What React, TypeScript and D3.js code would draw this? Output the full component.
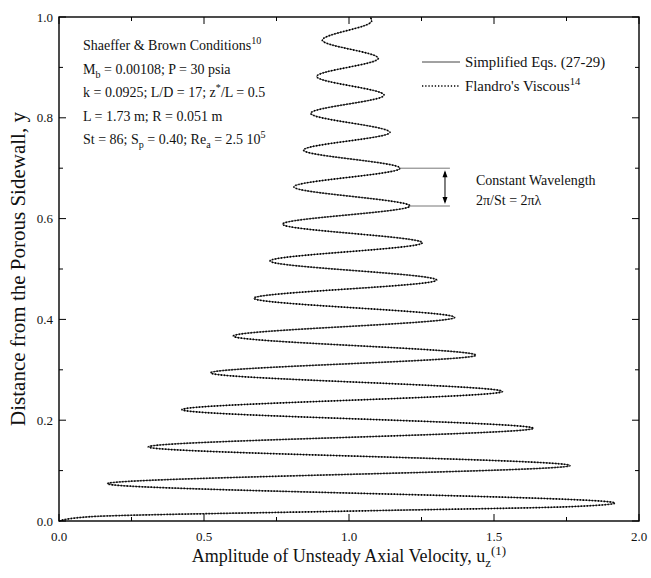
import React from 'react';
import * as d3 from 'd3';

// Distance from sidewall (y) and amplitude u_z^(1) read at the curve's turning points
const heightY = [
  0, 0.0085, 0.0204, 0.0284, 0.0357, 0.074, 0.110, 0.147, 0.184, 0.221, 0.257, 0.294,
  0.329, 0.367, 0.404, 0.442, 0.478, 0.516, 0.552, 0.589, 0.625, 0.663, 0.700, 0.736,
  0.771, 0.809, 0.845, 0.882, 0.918, 0.954, 0.992, 1.0,
];
const amplitudeU = [
  0, 0.107, 1.072, 1.762, 1.917, 0.167, 1.762, 0.308, 1.636, 0.424, 1.529, 0.523,
  1.438, 0.601, 1.364, 0.672, 1.302, 0.728, 1.253, 0.771, 1.210, 0.810, 1.176, 0.843,
  1.141, 0.868, 1.121, 0.889, 1.101, 0.908, 1.078, 1.074,
];
// Flandro's viscous solution coincides with the simplified equations at this scale
const viscousY = heightY;
const viscousU = amplitudeU;

const xMajor = [0, 0.5, 1.0, 1.5, 2.0];
const xMinor = [0.25, 0.75, 1.25, 1.75];
const yMajor = [0, 0.2, 0.4, 0.6, 0.8, 1.0];
const yMinor = [0.1, 0.3, 0.5, 0.7, 0.9];

const seriesNames = ['Simplified Eqs. (27-29)', "Flandro's Viscous"];

type Seg = { t: string; s?: 'sub' | 'sup' };

const conditionLines: Seg[][] = [
  [{ t: 'Shaeffer & Brown Conditions' }, { t: '10', s: 'sup' }],
  [{ t: 'M' }, { t: 'b', s: 'sub' }, { t: ' = 0.00108; P = 30 psia' }],
  [{ t: 'k = 0.0925; L/D = 17; z' }, { t: '*', s: 'sup' }, { t: '/L = 0.5' }],
  [{ t: 'L = 1.73 m; R = 0.051 m' }],
  [
    { t: 'St = 86; S' }, { t: 'p', s: 'sub' }, { t: ' = 0.40; Re' }, { t: 'a', s: 'sub' },
    { t: ' = 2.5 10' }, { t: '5', s: 'sup' },
  ],
];

const FONT = '"Liberation Serif", "Times New Roman", serif';

function Rich({ x, y, segs, size, anchor = 'start' }: { x: number; y: number; segs: Seg[]; size: number; anchor?: string }) {
  let prev = 0;
  return (
    <text x={x} y={y} fontSize={size} fontFamily={FONT} fill="#111" textAnchor={anchor}>
      {segs.map((sg, i) => {
        const shift = sg.s === 'sub' ? size * 0.3 : sg.s === 'sup' ? -size * 0.4 : 0;
        const dy = shift - prev;
        prev = shift;
        return (
          <tspan key={i} dy={dy} fontSize={sg.s ? size * 0.72 : size}>
            {sg.t}
          </tspan>
        );
      })}
    </text>
  );
}

export default function App() {
  const W = 651, H = 578;
  const L = 59, R = 639, T = 17, B = 521;
  const x = d3.scaleLinear().domain([0, 2]).range([L, R]);
  const y = d3.scaleLinear().domain([0, 1]).range([B, T]);

  const pts = heightY.map((h, i) => ({ y: h, u: amplitudeU[i] }));
  const vpts = viscousY.map((h, i) => ({ y: h, u: viscousU[i] }));
  const line = d3
    .line<{ y: number; u: number }>()
    .x((d) => x(d.u))
    .y((d) => y(d.y))
    .curve(d3.curveMonotoneY);

  const majLen = 7, minLen = 4;

  // wavelength annotation between peaks at y=0.700 and y=0.625
  const peakHi = { y: 0.7, u: 1.176 };
  const peakLo = { y: 0.625, u: 1.21 };
  const annEnd = 1.348;
  const arrowX = x(1.331);

  return (
    <svg width={W} height={H} style={{ position: 'absolute', left: 0, top: 0, background: '#fff' }}>
      <rect width={W} height={H} fill="#fff" />
      {/* curves */}
      <path d={line(pts) || ''} fill="none" stroke="#444" strokeWidth={1} />
      <path d={line(vpts) || ''} fill="none" stroke="#000" strokeWidth={1.7} strokeDasharray="1.3 1.7" />

      {/* frame */}
      <rect x={L} y={T} width={R - L} height={B - T} fill="none" stroke="#000" strokeWidth={1.4} />

      {/* ticks */}
      {xMajor.map((v) => (
        <g key={'xm' + v}>
          <line x1={x(v)} x2={x(v)} y1={B} y2={B - majLen} stroke="#000" strokeWidth={1} />
          <line x1={x(v)} x2={x(v)} y1={T} y2={T + majLen} stroke="#000" strokeWidth={1} />
          <text x={x(v)} y={B + 20} fontSize={13} fontFamily={FONT} textAnchor="middle" fill="#111">
            {v.toFixed(1)}
          </text>
        </g>
      ))}
      {xMinor.map((v) => (
        <g key={'xn' + v}>
          <line x1={x(v)} x2={x(v)} y1={B} y2={B - minLen} stroke="#000" strokeWidth={1} />
          <line x1={x(v)} x2={x(v)} y1={T} y2={T + minLen} stroke="#000" strokeWidth={1} />
        </g>
      ))}
      {yMajor.map((v) => (
        <g key={'ym' + v}>
          <line x1={L} x2={L + majLen} y1={y(v)} y2={y(v)} stroke="#000" strokeWidth={1} />
          <line x1={R} x2={R - majLen} y1={y(v)} y2={y(v)} stroke="#000" strokeWidth={1} />
          <text x={L - 6} y={y(v) + 4.5} fontSize={13} fontFamily={FONT} textAnchor="end" fill="#111">
            {v.toFixed(1)}
          </text>
        </g>
      ))}
      {yMinor.map((v) => (
        <g key={'yn' + v}>
          <line x1={L} x2={L + minLen} y1={y(v)} y2={y(v)} stroke="#000" strokeWidth={1} />
          <line x1={R} x2={R - minLen} y1={y(v)} y2={y(v)} stroke="#000" strokeWidth={1} />
        </g>
      ))}

      {/* axis titles */}
      <Rich
        x={(L + R) / 2}
        y={562}
        size={18}
        anchor="middle"
        segs={[{ t: 'Amplitude of Unsteady Axial Velocity, u' }, { t: 'z', s: 'sub' }, { t: '(1)', s: 'sup' }]}
      />
      <text
        transform={`translate(25, ${(T + B) / 2}) rotate(-90)`}
        fontSize={21}
        fontFamily={FONT}
        textAnchor="middle"
        fill="#111"
      >
        Distance from the Porous Sidewall, y
      </text>

      {/* conditions text */}
      {conditionLines.map((segs, i) => (
        <Rich key={i} x={83} y={50 + i * 23.5} segs={segs} size={14} />
      ))}

      {/* legend */}
      <line x1={422} x2={460} y1={62} y2={62} stroke="#444" strokeWidth={1} />
      <text x={465} y={67} fontSize={14.8} fontFamily={FONT} fill="#111">{seriesNames[0]}</text>
      <line x1={422} x2={460} y1={86} y2={86} stroke="#000" strokeWidth={1.5} strokeDasharray="1.3 1.9" />
      <Rich x={465} y={91} size={14.8} segs={[{ t: seriesNames[1] }, { t: '14', s: 'sup' }]} />

      {/* wavelength annotation */}
      <line x1={x(peakHi.u)} x2={x(annEnd)} y1={y(peakHi.y)} y2={y(peakHi.y)} stroke="#777" strokeWidth={1} />
      <line x1={x(peakLo.u)} x2={x(annEnd)} y1={y(peakLo.y)} y2={y(peakLo.y)} stroke="#777" strokeWidth={1} />
      <line x1={arrowX} x2={arrowX} y1={y(peakHi.y) + 4} y2={y(peakLo.y) - 4} stroke="#000" strokeWidth={1} />
      <path
        d={`M${arrowX},${y(peakHi.y) + 2} l-2.5,7 l5,0 z M${arrowX},${y(peakLo.y) - 2} l-2.5,-7 l5,0 z`}
        fill="#000"
      />
      <text x={476} y={185} fontSize={14} fontFamily={FONT} fill="#111">Constant Wavelength</text>
      <text x={476} y={205} fontSize={14} fontFamily={FONT} fill="#111">2π/St = 2πλ</text>
    </svg>
  );
}
